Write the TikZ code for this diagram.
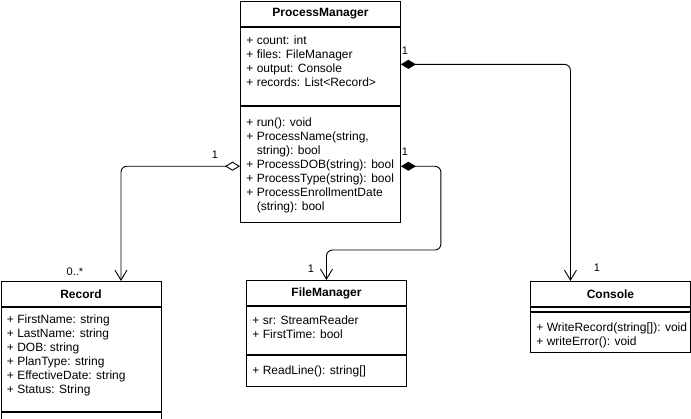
\documentclass[tikz,border=0pt]{standalone}
\usepackage{fontspec}
\setmainfont{Liberation Sans}
\usetikzlibrary{arrows.meta}
\newcommand{\umlfont}{\fontsize{12}{14}\selectfont}
% #1 height of the section, #2 space above the first line, #3 the lines
\newcommand{\members}[3]{\parbox[c][#1pt][t]{148pt}{\vspace*{#2pt}\strut#3}}
\tikzstyle{classhead} = [draw, minimum width=160pt, minimum height=25pt, inner sep=0pt, font=\umlfont\bfseries, anchor=north west]
\tikzstyle{classpart} = [draw, minimum width=160pt, inner xsep=6pt, inner ysep=0pt, anchor=north]
\tikzstyle{mult} = [font=\fontsize{11}{13}\selectfont, inner sep=0pt]
\tikzstyle{assoc} = [rounded corners=6pt]

\begin{document}
\begin{tikzpicture}[x=1pt, y=-1pt, line width=0.9pt, font=\umlfont]
\useasboundingbox (0,0) rectangle (691,419);
% ProcessManager
\node[classhead] (pm) at (240,1) {ProcessManager};
\node[classpart] (pmattr) at (pm.south) {\members{78}{7.5}{+ count: int\\+ files: FileManager\\+ output: Console\\+ records: List<Record>}};
\node[classpart] (pmmeth) at (pmattr.south) {\members{116}{10}{+ run(): void\\+ ProcessName(string,\\\phantom{+ }string): bool\\+ ProcessDOB(string): bool\\+ ProcessType(string): bool\\+ ProcessEnrollmentDate\\\phantom{+ }(string): bool}};
% Record
\node[classhead] (rec) at (0.5,281) {Record};
\node[classpart] (recattr) at (rec.south) {\members{104}{6.5}{+ FirstName: string\\+ LastName: string\\+ DOB: string\\+ PlanType: string\\+ EffectiveDate: string\\+ Status: String}};
\node[classpart, minimum height=8pt] (recmeth) at (recattr.south) {};
% FileManager
\node[classhead] (fm) at (246,280) {FileManager};
\node[classpart] (fmattr) at (fm.south) {\members{48}{8}{+ sr: StreamReader\\+ FirstTime: bool}};
\node[classpart] (fmmeth) at (fmattr.south) {\members{31}{9}{+ ReadLine(): string[]}};
% Console
\node[classhead] (con) at (530,281) {Console};
\node[classpart, minimum height=4pt] (conattr) at (con.south) {};
\node[classpart] (conmeth) at (conattr.south) {\members{40}{9.5}{\mbox{+ WriteRecord(string[]): void}\\+ writeError(): void}};

% relations
\draw[assoc, {Diamond[open,length=15pt,width=9pt]}-{Straight Barb[length=10pt,width=12pt]}] ([yshift=-2pt]pmmeth.west) -| ([xshift=40pt]rec.north);
\draw[assoc, {Diamond[length=15pt,width=9pt]}-{Straight Barb[length=10pt,width=12pt]}] ([yshift=2pt]pmattr.east) -| ([xshift=-40pt]con.north);
\draw[assoc, {Diamond[length=15pt,width=9pt]}-{Straight Barb[length=10pt,width=12pt]}] ([yshift=-2pt]pmmeth.east) -- ++(40,0) |- ([yshift=30pt]fm.north) -- (fm.north);

% multiplicities
\node[mult] (m1) at (215,155) {1};
\node[mult] (m2) at (75,272) {0..*};
\node[mult] (m3) at (405,51) {1};
\node[mult] (m4) at (597,268) {1};
\node[mult] (m5) at (405,152) {1};
\node[mult] (m6) at (311,269) {1};
\end{tikzpicture}
\end{document}
